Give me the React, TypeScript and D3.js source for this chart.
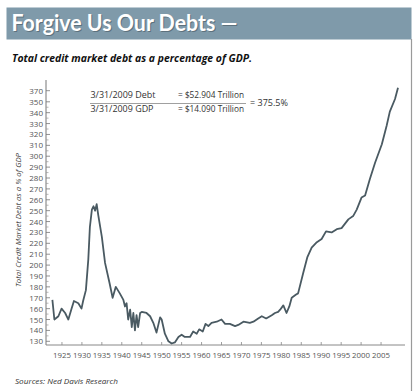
import React from "react";
import * as d3 from "d3";

const years: number[] = [
  1922.6, 1923.1, 1924.1, 1924.9, 1925.8, 1926.6, 1927.4, 1928.0, 1929.1, 1929.9,
  1930.3, 1931.0, 1931.6, 1932.0, 1932.5, 1932.9, 1933.3, 1933.7, 1934.1, 1935.0,
  1935.8, 1936.9, 1937.7, 1938.5, 1939.5, 1940.4, 1940.8, 1941.2, 1941.6, 1942.1,
  1942.5, 1942.9, 1943.3, 1943.7, 1944.1, 1944.6, 1945.0, 1946.2, 1947.1, 1947.9,
  1948.7, 1949.6, 1950.0, 1950.8, 1951.7, 1952.5, 1953.3, 1954.2, 1955.0, 1955.8,
  1957.1, 1957.9, 1958.8, 1959.4, 1960.3, 1961.0, 1961.7, 1962.5, 1963.8, 1965.0,
  1965.9, 1967.1, 1968.4, 1969.2, 1970.5, 1972.1, 1973.0, 1974.2, 1975.1, 1976.2,
  1977.6, 1978.4, 1979.2, 1979.7, 1980.5, 1981.3, 1982.0, 1982.6, 1983.7, 1984.2,
  1985.5, 1986.5, 1987.6, 1988.9, 1990.1, 1991.2, 1992.6, 1993.9, 1995.1, 1996.8,
  1998.0, 1998.9, 2000.1, 2001.0, 2002.2, 2003.5, 2005.2, 2006.4, 2007.2, 2008.5,
  2009.25,
];
const debtPct: number[] = [
  168, 150, 153, 160, 156, 150, 160, 167, 165, 160,
  167, 177, 205, 235, 251, 254, 250, 256, 246, 226,
  202, 184, 170, 180, 174, 168, 162, 165, 150, 159,
  143, 156, 140, 154, 143, 156, 157, 156, 153, 147,
  138, 152, 150, 137, 130, 128, 129, 134, 136, 134,
  134, 139, 137, 141, 139, 146, 144, 147, 148, 150,
  146, 146, 144, 145, 148, 147, 148, 151, 153, 151,
  154, 156, 157, 159, 163, 156, 162, 170, 173, 174,
  193, 207, 216, 221, 224, 231, 230, 233, 234, 242,
  245, 251, 262, 264, 279, 294, 311, 328, 341, 355,
  375.5,
];
const xTickYears: number[] = [1925, 1930, 1935, 1940, 1945, 1950, 1955, 1960, 1965, 1970, 1975, 1980, 1985, 1990, 1995, 2000, 2005];
const yTickValues: number[] = [130, 140, 150, 160, 170, 180, 190, 200, 210, 220, 230, 240, 250, 260, 270, 280, 290, 300, 310, 320, 330, 340, 350, 370];

const title = "Forgive Us Our Debts \u2014";
const subtitle = "Total credit market debt as a percentage of GDP.";
const yAxisTitle = "Total Credit Market Debt as a % of GDP";
const sourceText = "Sources: Ned Davis Research";
const noteLines = ["3/31/2009 Debt", "3/31/2009 GDP"];
const noteValues = ["= $52.904 Trillion", "= $14.090 Trillion"];
const noteResult = "= 375.5%";

export default function App() {
  const W = 420;
  const H = 391;
  const x = d3.scaleLinear().domain([1922, 2009.25]).range([50, 398]);
  const y = d3.scaleLinear().domain([130, 350, 370]).range([341.3, 101.8, 90.7]);
  const pts: [number, number][] = years.map((yr, i) => [yr, debtPct[i]]);
  const line = d3
    .line<[number, number]>()
    .x((d) => x(d[0]))
    .y((d) => y(d[1]))
    .curve(d3.curveLinear);

  const minorY = d3.range(130, 351, 5).filter((v) => v % 10 !== 0);
  const axisX = 46;
  const axisY = 345;
  const labelColor = "#555";
  const font = "'Open Sans', 'DejaVu Sans', sans-serif";

  return (
    <svg width={W} height={H} style={{ position: "absolute", left: 0, top: 0, background: "#fff" }}>
      <rect x={0} y={0} width={W} height={H} fill="#fff" />
      {/* header band */}
      <rect x={6.5} y={7.5} width={405} height={32} fill="#7f9aaa" />
      <line x1={411.5} y1={39} x2={411.5} y2={391} stroke="#9a9a9a" strokeWidth={1.2} />
      <text x={12.5} y={31.5} fill="#3c4a52" opacity={0.5} fontFamily="Lato, 'Open Sans', sans-serif" fontWeight={700} fontSize={22} textLength={226} lengthAdjust="spacingAndGlyphs">{title}</text>
      <text x={11.5} y={30.5} fill="#ffffff" fontFamily="Lato, 'Open Sans', sans-serif" fontWeight={700} fontSize={22} textLength={226} lengthAdjust="spacingAndGlyphs">{title}</text>
      <text x={12} y={62} fill="#111" fontFamily={font} fontWeight={700} fontStyle="italic" fontSize={11} textLength={240} lengthAdjust="spacingAndGlyphs">{subtitle}</text>

      {/* annotation */}
      <g fontFamily={font} fontSize={8.5} fill="#333">
        <text x={90.5} y={98} textLength={65} lengthAdjust="spacingAndGlyphs">{noteLines[0]}</text>
        <text x={90.5} y={112} textLength={63} lengthAdjust="spacingAndGlyphs">{noteLines[1]}</text>
        <text x={178} y={98} textLength={66} lengthAdjust="spacingAndGlyphs">{noteValues[0]}</text>
        <text x={178} y={112} textLength={66} lengthAdjust="spacingAndGlyphs">{noteValues[1]}</text>
        <text x={250} y={106} textLength={38} lengthAdjust="spacingAndGlyphs">{noteResult}</text>
      </g>
      <line x1={90} y1={103.5} x2={246} y2={103.5} stroke="#888" strokeWidth={0.8} />

      {/* y axis title */}
      <text
        transform={`translate(21,${220}) rotate(-90)`}
        textAnchor="middle"
        fontFamily={font}
        fontStyle="italic"
        fontSize={7.5}
        fill="#444"
        textLength={134}
        lengthAdjust="spacingAndGlyphs"
      >
        {yAxisTitle}
      </text>

      {/* axes */}
      <line x1={axisX} y1={80} x2={axisX} y2={axisY} stroke="#777" strokeWidth={1} />
      <line x1={axisX} y1={axisY} x2={405} y2={axisY} stroke="#888" strokeWidth={1} />
      {yTickValues.map((v) => (
        <g key={`yt${v}`}>
          <line x1={axisX} x2={axisX + 4} y1={y(v)} y2={y(v)} stroke="#777" strokeWidth={0.8} />
          <text x={43} y={y(v) + 3} textAnchor="end" fontFamily={font} fontSize={8} fill={labelColor}>
            {v}
          </text>
        </g>
      ))}
      {minorY.map((v) => (
        <line key={`ym${v}`} x1={axisX} x2={axisX + 2.5} y1={y(v)} y2={y(v)} stroke="#999" strokeWidth={0.7} />
      ))}
      {xTickYears.map((yr) => (
        <g key={`xt${yr}`}>
          <line x1={x(yr)} x2={x(yr)} y1={axisY} y2={axisY - 3} stroke="#888" strokeWidth={0.8} />
          <text x={x(yr)} y={358} textAnchor="middle" fontFamily={font} fontSize={7.5} fill={labelColor} textLength={18} lengthAdjust="spacingAndGlyphs">
            {yr}
          </text>
        </g>
      ))}

      {/* series */}
      <path d={line(pts) || ""} fill="none" stroke="#4a5a62" strokeWidth={1.8} strokeLinejoin="round" />

      <text x={15} y={384} fontFamily={font} fontStyle="italic" fontSize={8} fill="#333" textLength={103} lengthAdjust="spacingAndGlyphs">
        {sourceText}
      </text>
    </svg>
  );
}
